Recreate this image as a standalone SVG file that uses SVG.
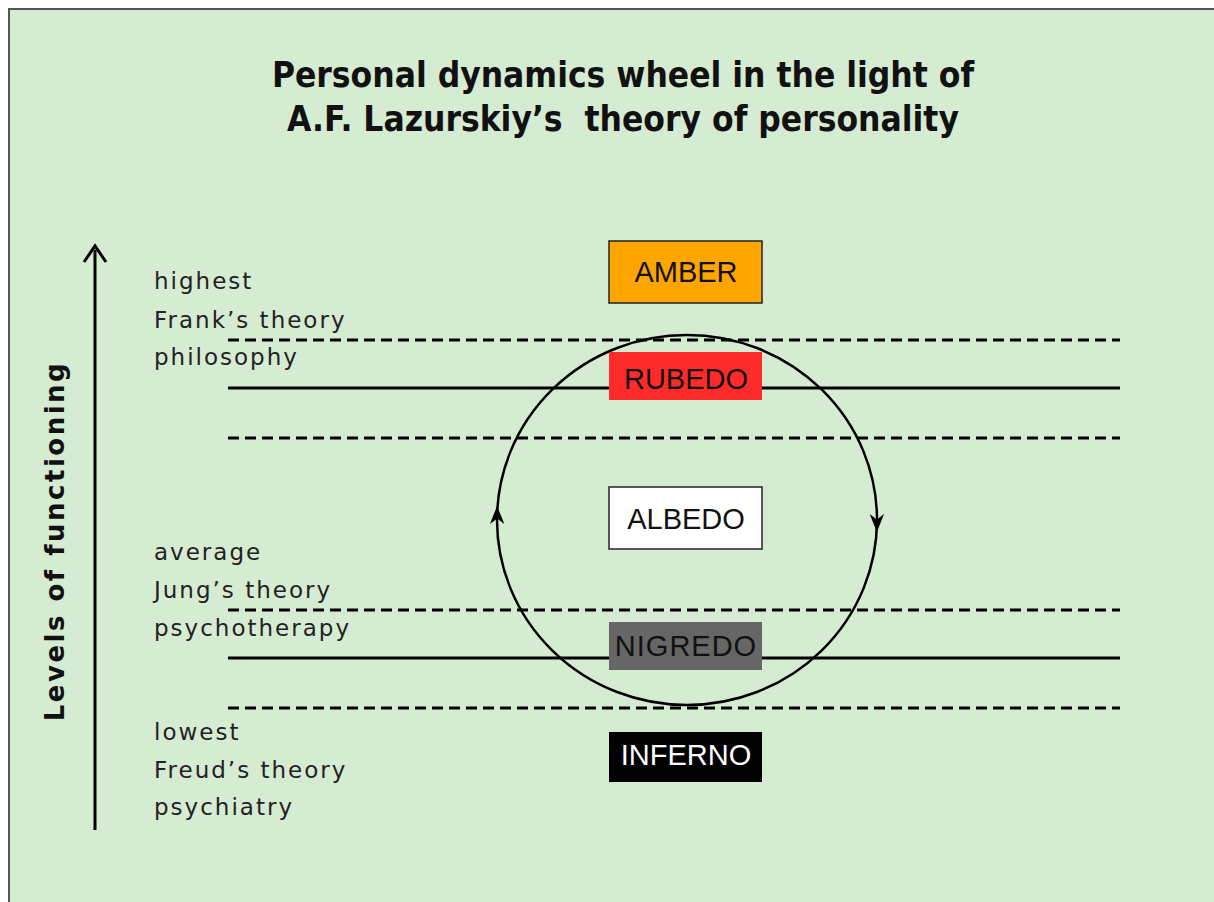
<svg xmlns="http://www.w3.org/2000/svg" width="1214" height="902" viewBox="0 0 1214 902">
<defs>
<style>
.title{font-family:"DejaVu Sans Condensed","DejaVu Sans",sans-serif;font-weight:bold;font-size:35px;fill:#111;text-anchor:middle;white-space:pre}
.lbl{font-family:"DejaVu Sans",Verdana,sans-serif;font-size:23px;letter-spacing:2px;fill:#222}
.box{font-family:"Liberation Sans",Arial,sans-serif;font-size:29px;text-anchor:middle;fill:#111}
.dash{stroke:#000;stroke-width:3;stroke-dasharray:11,6;fill:none}
.solid{stroke:#000;stroke-width:3;fill:none}
</style>
<marker id="ah" viewBox="0 0 10 10" refX="5" refY="5" markerWidth="18" markerHeight="18" markerUnits="userSpaceOnUse" orient="auto">
<path d="M0,1 L10,5 L0,9 L3,5 Z" fill="#000"/>
</marker>
</defs>
<rect x="0" y="0" width="1214" height="902" fill="#ffffff"/>
<rect x="9" y="9" width="1214" height="902" fill="#d6ecd2" stroke="#555" stroke-width="2"/>
<g id="title">
<text class="title" x="623" y="87" xml:space="preserve">Personal dynamics wheel in the light of</text>
<text class="title" x="623" y="131" xml:space="preserve">A.F. Lazurskiy’s  theory of personality</text>
</g>
<g id="axis">
<line x1="95" y1="830" x2="95" y2="250" stroke="#000" stroke-width="3"/>
<path d="M84,262 L95,246 L106,262" fill="none" stroke="#000" stroke-width="3"/>
<text x="64" y="541" transform="rotate(-90 64 541)" text-anchor="middle" font-family="DejaVu Sans,Verdana,sans-serif" font-weight="bold" font-size="26" letter-spacing="2.5" fill="#111">Levels of functioning</text>
</g>
<g id="left-labels">
<text class="lbl" x="154" y="289">highest</text>
<text class="lbl" x="154" y="328">Frank’s theory</text>
<text class="lbl" x="154" y="365">philosophy</text>
<text class="lbl" x="154" y="560">average</text>
<text class="lbl" x="154" y="598">Jung’s theory</text>
<text class="lbl" x="154" y="636">psychotherapy</text>
<text class="lbl" x="154" y="740">lowest</text>
<text class="lbl" x="154" y="778">Freud’s theory</text>
<text class="lbl" x="154" y="815">psychiatry</text>
</g>
<g id="connectors">
<line class="dash" x1="228" y1="340" x2="1120" y2="340"/>
<line class="solid" x1="228" y1="388" x2="1120" y2="388"/>
<line class="dash" x1="228" y1="438" x2="1120" y2="438"/>
<line class="dash" x1="228" y1="610" x2="1120" y2="610"/>
<line class="solid" x1="228" y1="658" x2="1120" y2="658"/>
<line class="dash" x1="228" y1="708" x2="1120" y2="708"/>
<ellipse cx="687" cy="520" rx="190" ry="185" fill="none" stroke="#000" stroke-width="2.5"/>
<path d="M497.2,532 L497.1,515" fill="none" stroke="none" marker-end="url(#ah)"/>
<path d="M876.8,506 L876.9,523" fill="none" stroke="none" marker-end="url(#ah)"/>
</g>
<g id="amber">
<rect x="609" y="241" width="153" height="62" fill="#ffa500" stroke="#222" stroke-width="1.5"/>
<text class="box" x="686" y="282">AMBER</text>
</g>
<g id="rubedo">
<rect x="609" y="352" width="153" height="48" fill="#ff2a2a"/>
<text class="box" x="686" y="389">RUBEDO</text>
</g>
<g id="albedo">
<rect x="609" y="487" width="153" height="62" fill="#ffffff" stroke="#222" stroke-width="1.5"/>
<text class="box" x="686" y="529">ALBEDO</text>
</g>
<g id="nigredo">
<rect x="609" y="622" width="153" height="48" fill="#666666"/>
<text class="box" x="686" y="656" style="letter-spacing:1px">NIGREDO</text>
</g>
<g id="inferno">
<rect x="609" y="732" width="153" height="50" fill="#000000"/>
<text class="box" x="686" y="765" style="fill:#ffffff">INFERNO</text>
</g>
</svg>
